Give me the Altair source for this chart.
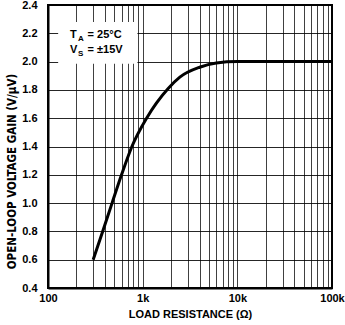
import altair as alt
import pandas as pd

# Curve data
load_res = [300, 378, 475, 598, 770, 1100, 1860, 2470, 4000, 6000, 10000, 100000]
gain = [0.60, 0.80, 1.00, 1.20, 1.40, 1.60, 1.81, 1.89, 1.96, 1.99, 2.00, 2.00]

x_grid = [m * d for d in (100, 1000, 10000) for m in range(1, 10)] + [100000]
y_ticks = [0.4, 0.6, 0.8, 1.0, 1.2, 1.4, 1.6, 1.8, 2.0, 2.2, 2.4]

# annotation box (data coords)
box_x = [128, 880]
box_y = [1.985, 2.28]

ann_text = ["T", "A", "= 25°C", "V", "S", "= ±15V"]
ann_x = [171, 207, 262, 171, 207, 262]
ann_y = [2.187, 2.160, 2.187, 2.081, 2.054, 2.081]
ann_size = [11, 8, 11, 11, 8, 11]

FONT = "Liberation Sans"
NARROW = "Liberation Sans Narrow, DejaVu Sans Condensed, Liberation Sans"

df = pd.DataFrame({"R": load_res, "G": gain})
box = pd.DataFrame({"x": [box_x[0]], "x2": [box_x[1]], "y": [box_y[0]], "y2": [box_y[1]]})
ann = pd.DataFrame({"t": ann_text, "x": ann_x, "y": ann_y, "s": ann_size})

xscale = alt.Scale(type="log", domain=[100, 100000], nice=False)
yscale = alt.Scale(domain=[0.4, 2.4], nice=False, zero=False)

label_expr = ("datum.value == 100 ? '100' : datum.value == 1000 ? '1k' : "
              "datum.value == 10000 ? '10k' : datum.value == 100000 ? '100k' : ''")

xaxis = alt.Axis(values=x_grid, tickCount=100, labelExpr=label_expr, grid=True, ticks=False,
                 gridColor="black", gridWidth=1, gridOpacity=0.75,
                 domainColor="black", domainWidth=2,
                 labelFont=FONT, labelFontSize=11, labelFontWeight="bold", labelColor="black",
                 labelPadding=4, labelOverlap=False, labelFlush=False,
                 title="LOAD RESISTANCE (Ω)", titleFont=FONT, titleFontSize=11,
                 titleFontWeight="bold", titleColor="black", titlePadding=5)
yaxis = alt.Axis(values=y_ticks, tickCount=50, format=".1f", grid=True, ticks=False,
                 gridColor="black", gridWidth=1, gridOpacity=0.85,
                 domainColor="black", domainWidth=2,
                 labelFont=FONT, labelFontSize=11, labelFontWeight="bold", labelColor="black",
                 labelPadding=11, labelOverlap=False, labelFlush=False,
                 title="OPEN-LOOP VOLTAGE GAIN (V/µV)", titleFont=NARROW, titleFontSize=11.5,
                 titleFontWeight="bold", titleColor="black", titlePadding=4, titleY=166)

line = alt.Chart(df).mark_line(color="black", strokeWidth=3, interpolate="monotone").encode(
    x=alt.X("R:Q", scale=xscale, axis=xaxis),
    y=alt.Y("G:Q", scale=yscale, axis=yaxis),
)

rect = alt.Chart(box).mark_rect(color="white").encode(
    x=alt.X("x:Q", scale=xscale), x2="x2", y=alt.Y("y:Q", scale=yscale), y2="y2"
)

text = alt.Chart(ann).mark_text(align="left", baseline="middle", font=FONT,
                                fontWeight="bold", color="black").encode(
    x=alt.X("x:Q", scale=xscale), y=alt.Y("y:Q", scale=yscale),
    text="t:N", size=alt.Size("s:Q", scale=None, legend=None)
)

chart = alt.layer(rect, line, text).properties(
    width=284, height=283,
    autosize=alt.AutoSizeParams(type="none"),
    padding={"left": 48, "top": 5, "right": 13, "bottom": 37},
    background="white",
).configure_view(stroke="black", strokeWidth=2)

chart.save("out.html", embed_options={"renderer": "svg", "actions": False})
